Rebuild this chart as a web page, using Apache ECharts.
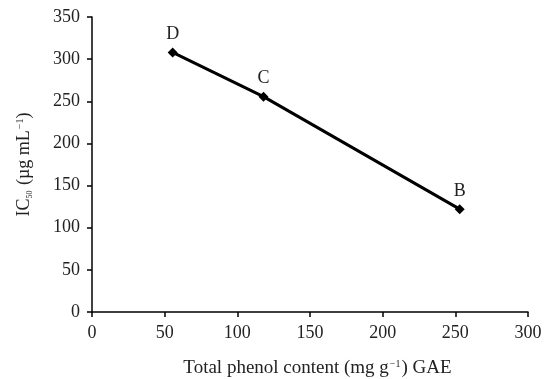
<!DOCTYPE html>
<html>
<head>
<meta charset="utf-8">
<script src="https://cdn.jsdelivr.net/npm/echarts@6/dist/echarts.min.js"></script>
<style>html,body{margin:0;padding:0;background:#fff}#c{width:544px;height:379px}</style>
</head>
<body>
<div id="c"></div>
<script>
const pointNames = ['D', 'C', 'B'];
const phenolValues = [55.5, 118, 253];
const ic50Values = [308, 255.5, 122];
const xTicks = [0, 50, 100, 150, 200, 250, 300];
const yTicks = [0, 50, 100, 150, 200, 250, 300, 350];

const font = 'Liberation Serif, Times New Roman, serif';
const chart = echarts.init(document.getElementById('c'));
const data = phenolValues.map((x, i) => ({ value: [x, ic50Values[i]], name: pointNames[i] }));
chart.setOption({
  animation: false,
  backgroundColor: '#fff',
  grid: { left: 92, top: 17, right: 16, bottom: 67, containLabel: false, outerBoundsMode: 'none' },
  xAxis: {
    type: 'value', min: xTicks[0], max: xTicks[xTicks.length - 1], interval: 50,
    name: 'Total phenol content (mg g{p|−1}) GAE',
    nameLocation: 'middle', nameGap: 47,
    nameTextStyle: { fontFamily: font, fontSize: 19, color: '#222', padding: [0, 0, 0, 15],
      rich: { p: { fontFamily: font, fontSize: 10, verticalAlign: 'top', padding: [0, 1, 9, 1], color: '#222' } } },
    axisLine: { lineStyle: { color: '#000', width: 1.5 } },
    axisTick: { show: true, length: 5, lineStyle: { color: '#000', width: 1.5 } },
    axisLabel: { fontFamily: font, fontSize: 18, color: '#222', margin: 12 },
    splitLine: { show: false }
  },
  yAxis: {
    type: 'value', min: yTicks[0], max: yTicks[yTicks.length - 1], interval: 50,
    name: 'IC{s|50} (µg mL{p|−1})',
    nameLocation: 'middle', nameGap: 58, nameRotate: 90,
    nameTextStyle: { fontFamily: font, fontSize: 18, color: '#222',
      rich: {
        s: { fontFamily: font, fontSize: 8, verticalAlign: 'bottom', padding: [8, 1, 0, 0], color: '#222' },
        p: { fontFamily: font, fontSize: 10, verticalAlign: 'top', padding: [0, 0, 9, 1], color: '#222' }
      } },
    axisLine: { show: true, lineStyle: { color: '#000', width: 1.5 } },
    axisTick: { show: true, length: 5, lineStyle: { color: '#000', width: 1.5 } },
    axisLabel: { fontFamily: font, fontSize: 18, color: '#222', margin: 12 },
    splitLine: { show: false }
  },
  series: [{
    type: 'line',
    data: data,
    symbol: 'diamond',
    symbolSize: 10,
    lineStyle: { color: '#000', width: 3 },
    itemStyle: { color: '#000' },
    label: { show: true, position: 'top', distance: 4, formatter: p => p.name,
      fontFamily: font, fontSize: 18, color: '#222' }
  }]
});
</script>
</body>
</html>
